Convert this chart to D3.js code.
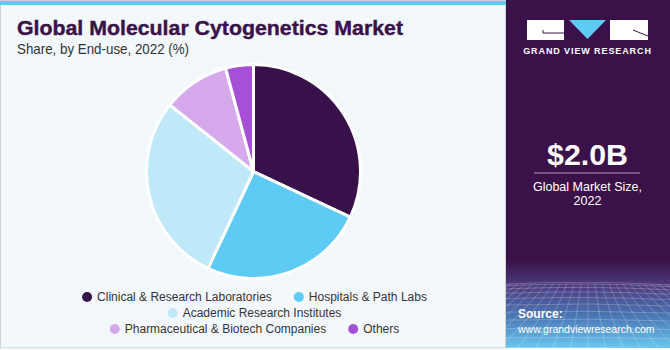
<!DOCTYPE html>
<html><head><meta charset="utf-8">
<script src="https://cdn.jsdelivr.net/npm/d3@7"></script>
<style>
html,body{margin:0;padding:0;background:#ffffff;}
svg{display:block;}
</style></head>
<body>
<svg id="chart" width="670" height="350"></svg>
<script>
const categories = ["Clinical & Research Laboratories","Hospitals & Path Labs","Academic Research Institutes","Pharmaceutical & Biotech Companies","Others"];
const shares = [32.0, 25.0, 28.7, 10.1, 4.2];
const colors = ["#38114a","#5ecbf5","#bfe9f8","#d5a9ec","#a650d8"];
const titleText = "Global Molecular Cytogenetics Market";
const subtitleText = "Share, by End-use, 2022 (%)";
const marketValue = "$2.0B";
const marketLabel = ["Global Market Size,", "2022"];

const svg = d3.select("#chart");
const font = "'Liberation Sans', Arial, sans-serif";

// left panel
svg.append("rect").attr("x",0.5).attr("y",0.5).attr("width",505).attr("height",347.5)
  .attr("fill","#f3f8fc").attr("stroke","#cfd3d6").attr("stroke-width",1);
svg.append("rect").attr("x",0).attr("y",1).attr("width",506).attr("height",4).attr("fill","#5ecbf5");

// right panel
const defs = svg.append("defs");
const grad = defs.append("linearGradient").attr("id","rg").attr("x1",0).attr("y1",0).attr("x2",0).attr("y2",1);
grad.append("stop").attr("offset","0").attr("stop-color","#3a1249");
grad.append("stop").attr("offset","0.75").attr("stop-color","#3a1249");
grad.append("stop").attr("offset","0.82").attr("stop-color","#4d3c7f");
grad.append("stop").attr("offset","0.91").attr("stop-color","#4a78b6");
grad.append("stop").attr("offset","1").attr("stop-color","#6ac8ef");
svg.append("rect").attr("x",506).attr("y",0).attr("width",164).attr("height",348).attr("fill","url(#rg)");
defs.append("clipPath").attr("id","gc").append("rect").attr("x",506).attr("y",282).attr("width",164).attr("height",66);
const grid = svg.append("g").attr("clip-path","url(#gc)").attr("stroke","#ffffff").attr("stroke-opacity",0.28).attr("stroke-width",0.8).attr("fill","none");
const hy = d3.range(0,14).map(i => 284 + Math.pow(i,1.6)*1.6);
hy.forEach((y,i)=>grid.append("path").attr("d",`M506,${y} Q588,${y-4+i*0.3} 670,${y+1}`));
d3.range(-12,13).forEach(k=>{
  grid.append("path").attr("d",`M${588+k*7},284 Q${588+k*11},315 ${588+k*18},350`);
});

// logo
const logo = svg.append("g");
logo.append("rect").attr("x",527).attr("y",20).attr("width",37).attr("height",20).attr("fill","#ffffff");
logo.append("path").attr("d","M543,30 L543,33 L564,33").attr("stroke","#3a1249").attr("stroke-width",1).attr("fill","none");
logo.append("path").attr("d","M569,20 L606,20 L587.5,39 Z").attr("fill","#5ecbf5");
logo.append("rect").attr("x",610).attr("y",20).attr("width",38).attr("height",20).attr("fill","#ffffff");
logo.append("path").attr("d","M633,30 L648,36").attr("stroke","#3a1249").attr("stroke-width",1).attr("fill","none");
svg.append("text").attr("x",587.5).attr("y",54).attr("text-anchor","middle")
  .attr("font-family",font).attr("font-weight","bold").attr("font-size",9).attr("letter-spacing",0.9)
  .attr("fill","#ffffff").text("GRAND VIEW RESEARCH");

// market size
svg.append("text").attr("x",587.5).attr("y",165).attr("text-anchor","middle")
  .attr("font-family",font).attr("font-weight","bold").attr("font-size",29)
  .attr("textLength",81).attr("lengthAdjust","spacingAndGlyphs").attr("fill","#ffffff").text(marketValue);
svg.append("line").attr("x1",534).attr("x2",640).attr("y1",173).attr("y2",173).attr("stroke","#a795b8").attr("stroke-width",1);
marketLabel.forEach((t,i)=>svg.append("text").attr("x",587.5).attr("y",191+i*14).attr("text-anchor","middle")
  .attr("font-family",font).attr("font-size",12.5).attr("fill","#ffffff").text(t));

// source
svg.append("text").attr("x",518).attr("y",318).attr("font-family",font).attr("font-weight","bold").attr("font-size",12).attr("fill","#ffffff").text("Source:");
svg.append("text").attr("x",518).attr("y",333).attr("font-family",font).attr("font-size",10.5)
  .attr("fill","#ffffff").text("www.grandviewresearch.com");

// titles
svg.append("text").attr("x",17).attr("y",35).attr("font-family",font).attr("font-weight","bold").attr("font-size",20)
  .attr("textLength",386).attr("lengthAdjust","spacingAndGlyphs")
  .attr("stroke","#3a1249").attr("stroke-width",0.4)
  .attr("fill","#3a1249").text(titleText);
svg.append("text").attr("x",17).attr("y",54).attr("font-family",font).attr("font-size",14.5)
  .attr("textLength",172).attr("lengthAdjust","spacingAndGlyphs")
  .attr("fill","#333333").text(subtitleText);

// pie
const pie = d3.pie().sort(null).value(d=>d)(shares);
const arc = d3.arc().innerRadius(0).outerRadius(107);
svg.append("g").attr("transform","translate(253.5,171.5)")
  .selectAll("path").data(pie).join("path")
  .attr("d",arc).attr("fill",(d,i)=>colors[i]).attr("stroke","#ffffff").attr("stroke-width",3).attr("stroke-linejoin","round");

// legend
const rows = [[0,1],[2],[3,4]];
const legend = svg.append("g").attr("font-family",font).attr("font-size",12).attr("fill","#333333");
const gap = 22;
rows.forEach((row,ri)=>{
  const y = 297 + ri*16;
  const g = legend.append("g");
  let x = 0;
  row.forEach((ci,j)=>{
    g.append("circle").attr("cx",x+5).attr("cy",y).attr("r",5).attr("fill",colors[ci]);
    const t = g.append("text").attr("x",x+15).attr("y",y+4.3).text(categories[ci]);
    x += 15 + t.node().getComputedTextLength() + gap;
  });
  const w = x - gap;
  g.attr("transform",`translate(${254.5 - w/2},0)`);
});
</script>
</body></html>
